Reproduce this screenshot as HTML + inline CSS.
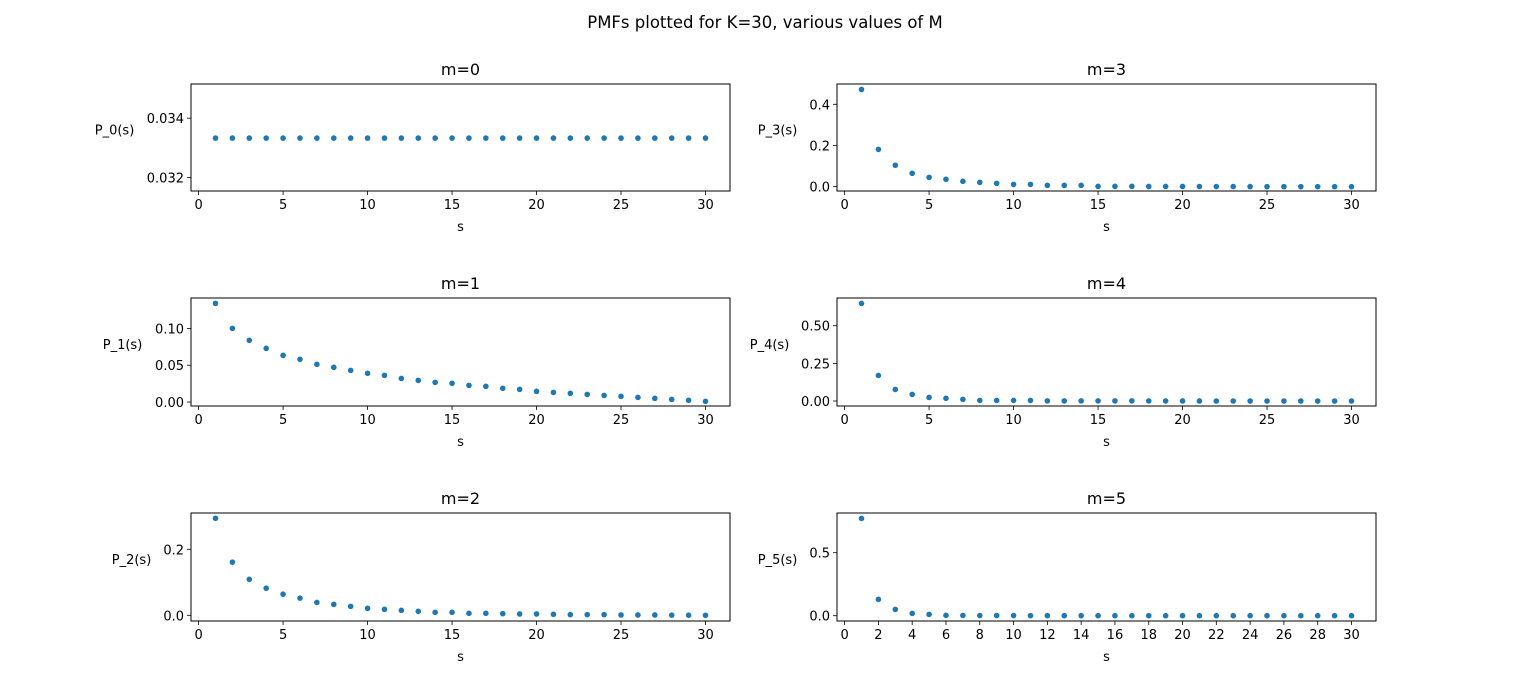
<!DOCTYPE html>
<html><head><meta charset="utf-8"><style>
html,body{margin:0;padding:0;background:#fff;}
svg{display:block;font-family:"DejaVu Sans","Liberation Sans",sans-serif;}
</style></head><body>
<svg id="fig" width="1529" height="697" viewBox="0 0 1529 697">
<text x="765" y="28" text-anchor="middle" font-size="16.5" fill="#000">PMFs plotted for K=30, various values of M</text>
</svg>
<script>
const sValues = [1,2,3,4,5,6,7,8,9,10,11,12,13,14,15,16,17,18,19,20,21,22,23,24,25,26,27,28,29,30];
const p0 = [0.03333,0.03333,0.03333,0.03333,0.03333,0.03333,0.03333,0.03333,0.03333,0.03333,0.03333,0.03333,0.03333,0.03333,0.03333,0.03333,0.03333,0.03333,0.03333,0.03333,0.03333,0.03333,0.03333,0.03333,0.03333,0.03333,0.03333,0.03333,0.03333,0.03333];
const p1 = [0.134,0.100,0.0838,0.0729,0.0634,0.058,0.0512,0.0471,0.043,0.039,0.0362,0.032,0.0294,0.0267,0.0254,0.0226,0.0213,0.0186,0.0172,0.0145,0.0131,0.0118,0.0104,0.009,0.0077,0.0063,0.005,0.0036,0.0023,0.0009];
const p2 = [0.294,0.161,0.109,0.082,0.064,0.052,0.039,0.033,0.027,0.021,0.018,0.015,0.012,0.009,0.009,0.006,0.006,0.005,0.004,0.004,0.003,0.002,0.002,0.002,0.001,0.001,0.001,0.0005,0.0003,0.0001];
const p3 = [0.472,0.181,0.104,0.065,0.045,0.036,0.026,0.021,0.016,0.011,0.011,0.0065,0.0065,0.0065,0.0016,0.0016,0.0016,0.001,0.001,0.001,0.0008,0.0006,0.0005,0.0004,0.0003,0.0002,0.0001,0.0001,0.0,0.0];
const p4 = [0.648,0.170,0.077,0.044,0.024,0.018,0.011,0.004,0.004,0.004,0.004,0.001,0.001,0.001,0.001,0.001,0.001,0.0005,0.0005,0.0004,0.0003,0.0002,0.0002,0.0001,0.0001,0.0,0.0,0.0,0.0,0.0];
const p5 = [0.772,0.130,0.050,0.0185,0.0106,0.003,0.002,0.001,0.001,0.001,0.0005,0.0004,0.0003,0.0002,0.0001,0.0001,0.0,0.0,0.0,0.0,0.0,0.0,0.0,0.0,0.0,0.0,0.0,0.0,0.0,0.0];
const yTicks0 = ["0.032","0.034"];
const yTicks1 = ["0.00","0.05","0.10"];
const yTicks2 = ["0.0","0.2"];
const yTicks3 = ["0.0","0.2","0.4"];
const yTicks4 = ["0.00","0.25","0.50"];
const yTicks5 = ["0.0","0.5"];
const xTicksA = [0,5,10,15,20,25,30];
const xTicksB = [0,2,4,6,8,10,12,14,16,18,20,22,24,26,28,30];

const NS = "http://www.w3.org/2000/svg";
const svg = document.getElementById('fig');
function mk(tag, attrs, parent){const e=document.createElementNS(NS,tag);for(const k in attrs)e.setAttribute(k,attrs[k]);(parent||svg).appendChild(e);return e;}

const panels = [
 {id:'m0', title:'m=0', yl:'P_0(s)', ylx:114.5, data:p0, yt:yTicks0, xt:xTicksA, L:191, T:84, R:730, B:191, y0:0.03155, y1:0.03515},
 {id:'m1', title:'m=1', yl:'P_1(s)', ylx:122.5, data:p1, yt:yTicks1, xt:xTicksA, L:191, T:298, R:730, B:406, y0:-0.0054, y1:0.1413},
 {id:'m2', title:'m=2', yl:'P_2(s)', ylx:131.5, data:p2, yt:yTicks2, xt:xTicksA, L:191, T:513, R:730, B:621, y0:-0.0173, y1:0.31},
 {id:'m3', title:'m=3', yl:'P_3(s)', ylx:777.5, data:p3, yt:yTicks3, xt:xTicksA, L:837, T:84, R:1376, B:191, y0:-0.021, y1:0.4985},
 {id:'m4', title:'m=4', yl:'P_4(s)', ylx:769.5, data:p4, yt:yTicks4, xt:xTicksA, L:837, T:298, R:1376, B:406, y0:-0.033, y1:0.684},
 {id:'m5', title:'m=5', yl:'P_5(s)', ylx:777.5, data:p5, yt:yTicks5, xt:xTicksB, L:837, T:513, R:1376, B:621, y0:-0.042, y1:0.815}
];
const xMin=-0.45, xMax=31.45;
panels.forEach(p=>{
  const g = mk('g',{});
  
  
  const xs = v => p.L + (v-xMin)/(xMax-xMin)*(p.R-p.L);
  const ys = v => p.B - (v-p.y0)/(p.y1-p.y0)*(p.B-p.T);
  p.xt.forEach(t=>{
    const x=xs(t);
    mk('line',{x1:x,x2:x,y1:p.B,y2:p.B+4,stroke:'#000','stroke-width':0.8},g);
    const tx=mk('text',{x:x,y:p.B+18,'text-anchor':'middle','font-size':13,fill:'#000'},g);
    tx.textContent=t;
    
    
  });
  p.yt.forEach(t=>{
    const y=ys(parseFloat(t));
    mk('line',{x1:p.L-4,x2:p.L,y1:y,y2:y,stroke:'#000','stroke-width':0.8},g);
    const tx=mk('text',{x:p.L-7,y:y+5,'text-anchor':'end','font-size':13,fill:'#000'},g);
    tx.textContent=t;
    
    
  });
  sValues.forEach((s,i)=>{
    const c=mk('circle',{cx:xs(s),cy:ys(p.data[i]),r:2.8,fill:'#1f77b4'},g);
    
    
  });
  const fr=mk('rect',{x:p.L,y:p.T,width:p.R-p.L,height:p.B-p.T,fill:'none',stroke:'#000','stroke-width':1},g);
  
  
  const tt=mk('text',{x:(p.L+p.R)/2,y:p.T-9,'text-anchor':'middle','font-size':16,fill:'#000'},g);
  tt.textContent=p.title;
  
  
  const xl=mk('text',{x:(p.L+p.R)/2,y:p.B+40,'text-anchor':'middle','font-size':13,fill:'#000'},g);
  xl.textContent='s';
  
  
  const yl=mk('text',{x:p.ylx,y:(p.T+p.B)/2-3,'text-anchor':'middle','font-size':13,fill:'#000'},g);
  yl.textContent=p.yl;
  
  
});
</script>
</body></html>
